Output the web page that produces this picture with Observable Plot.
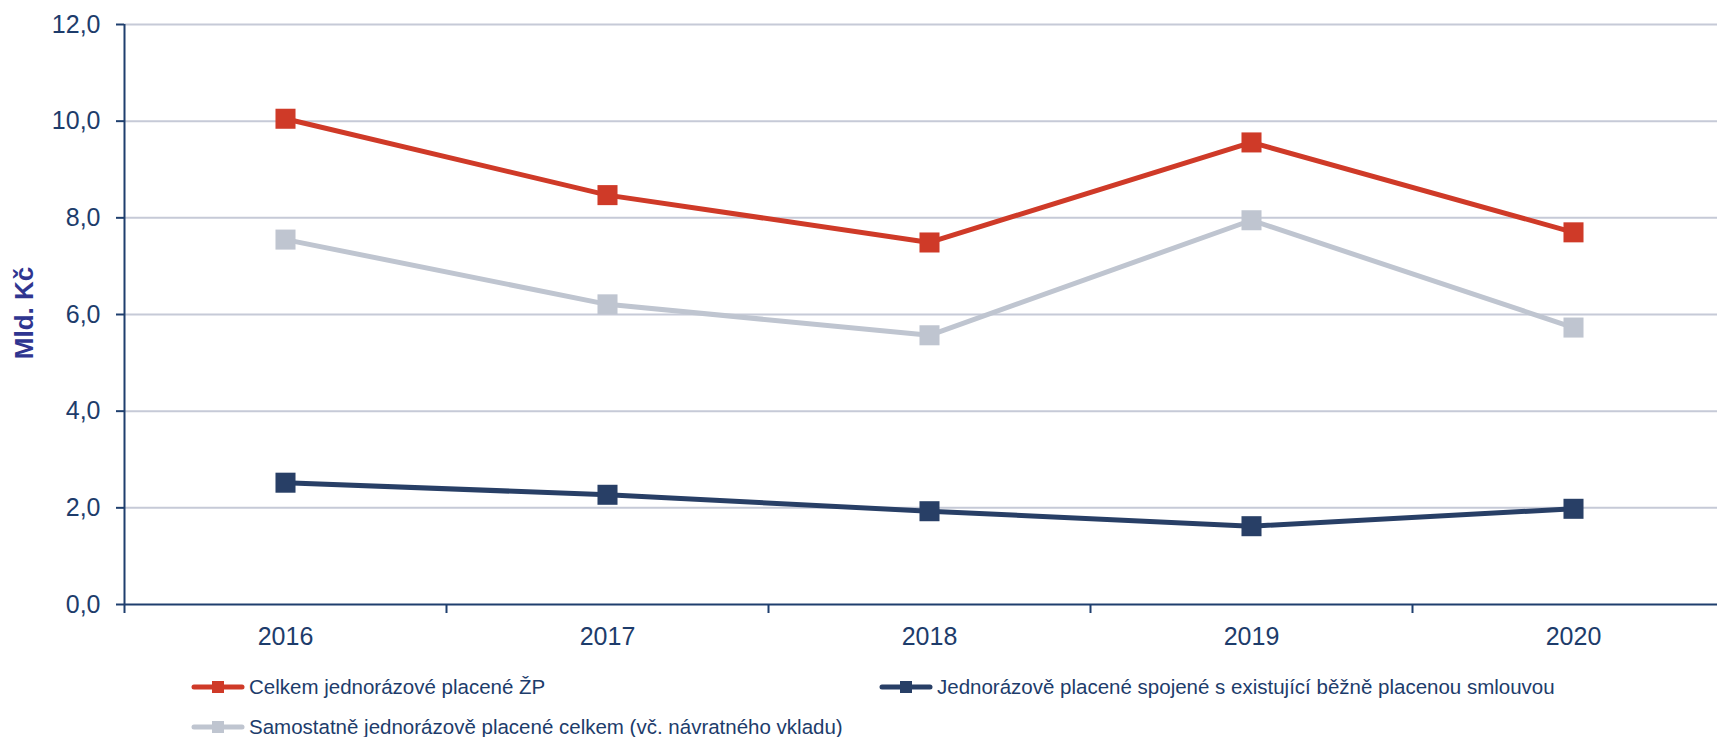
<!DOCTYPE html>
<html>
<head>
<meta charset="utf-8">
<script src="https://cdn.jsdelivr.net/npm/d3@7"></script>
<script src="https://cdn.jsdelivr.net/npm/@observablehq/plot@0.6"></script>
<style>
  html, body { margin: 0; padding: 0; background: #fff; }
  #wrap { position: relative; width: 1717px; height: 737px; overflow: hidden; font-family: "Liberation Sans", Arial, sans-serif; }
  #ytitle { position: absolute; left: 24px; top: 313px; transform: translate(-50%, -50%) rotate(-90deg); font-weight: bold; font-size: 26px; color: #2f3590; white-space: nowrap; }
  .leg { position: absolute; display: flex; align-items: center; font-size: 20.5px; color: #1d3c6b; white-space: nowrap; height: 30px; }
  .leg svg { margin-right: 4px; }
</style>
</head>
<body>
<div id="wrap"></div>
<script>
const years = [2016, 2017, 2018, 2019, 2020];
const boundaries = [2015.5, 2016.5, 2017.5, 2018.5, 2019.5];
const yTicks = [0, 2, 4, 6, 8, 10, 12];
const seriesNames = [
  "Celkem jednorázové placené ŽP",
  "Jednorázově placené spojené s existující běžně placenou smlouvou",
  "Samostatně jednorázově placené celkem (vč. návratného vkladu)"
];
const seriesColors = ["#cf3a28", "#283f66", "#bfc5d0"];
const celkem = [10.05, 8.47, 7.49, 9.56, 7.70];
const spojene = [2.52, 2.27, 1.93, 1.62, 1.98];
const samostatne = [7.55, 6.21, 5.57, 7.95, 5.73];

const seriesValues = [celkem, spojene, samostatne];
const data = seriesValues.flatMap((vals, i) => vals.map((v, j) => ({year: years[j], value: v, series: seriesNames[i]})));

const axisColor = "#1f3f6e";
const textColor = "#1d3c6b";
const drawOrder = [1, 2, 0];

const marks = [
  Plot.gridY(yTicks.slice(1), {stroke: "#c6cad7", strokeOpacity: 1, strokeWidth: 2}),
  Plot.ruleY([0], {stroke: axisColor, strokeWidth: 2}),
  Plot.ruleX([boundaries[0]], {stroke: axisColor, strokeWidth: 2}),
  Plot.axisY({ticks: yTicks, tickSize: 8, tickPadding: 16, tickFormat: d => d.toFixed(1).replace(".", ","), fontSize: 25, color: textColor, stroke: axisColor, strokeWidth: 2, label: null}),
  Plot.axisX({ticks: boundaries, tickSize: 9, tickFormat: () => "", stroke: axisColor, strokeWidth: 2, label: null}),
  Plot.axisX({ticks: years, tickSize: 0, tickPadding: 23, tickFormat: d => String(d), fontSize: 25, color: textColor, label: null})
];
for (const i of drawOrder) {
  const sub = data.filter(d => d.series === seriesNames[i]);
  marks.push(Plot.line(sub, {x: "year", y: "value", stroke: seriesColors[i], strokeWidth: 5, strokeLinejoin: "miter"}));
  marks.push(Plot.dot(sub, {x: "year", y: "value", symbol: "square", r: 11.3, fill: seriesColors[i], stroke: "none"}));
}

const chart = Plot.plot({
  width: 1717,
  height: 660,
  marginLeft: 124,
  marginRight: 0,
  marginTop: 24,
  marginBottom: 56,
  style: {fontFamily: "'Liberation Sans', Arial, sans-serif", background: "#fff", overflow: "visible"},
  x: {type: "linear", domain: [2015.5, 2020.5], range: [124, 1734], axis: null},
  y: {domain: [0, 12], axis: null},
  marks
});

const wrap = document.getElementById("wrap");
wrap.appendChild(chart);

const yt = document.createElement("div");
yt.id = "ytitle";
yt.textContent = "Mld. Kč";
wrap.appendChild(yt);

const legendPos = [[191, 672], [879, 672], [191, 712]];
const legendOrder = [0, 1, 2];
legendOrder.forEach((i, k) => {
  const item = document.createElement("div");
  item.className = "leg";
  item.style.left = legendPos[k][0] + "px";
  item.style.top = legendPos[k][1] + "px";
  const c = seriesColors[i];
  item.innerHTML = `<svg width="54" height="14"><line x1="3" y1="7" x2="51" y2="7" stroke="${c}" stroke-width="5" stroke-linecap="round"/><rect x="21" y="1" width="12" height="12" fill="${c}"/></svg><span>${seriesNames[i]}</span>`;
  wrap.appendChild(item);
});
</script>
</body>
</html>
